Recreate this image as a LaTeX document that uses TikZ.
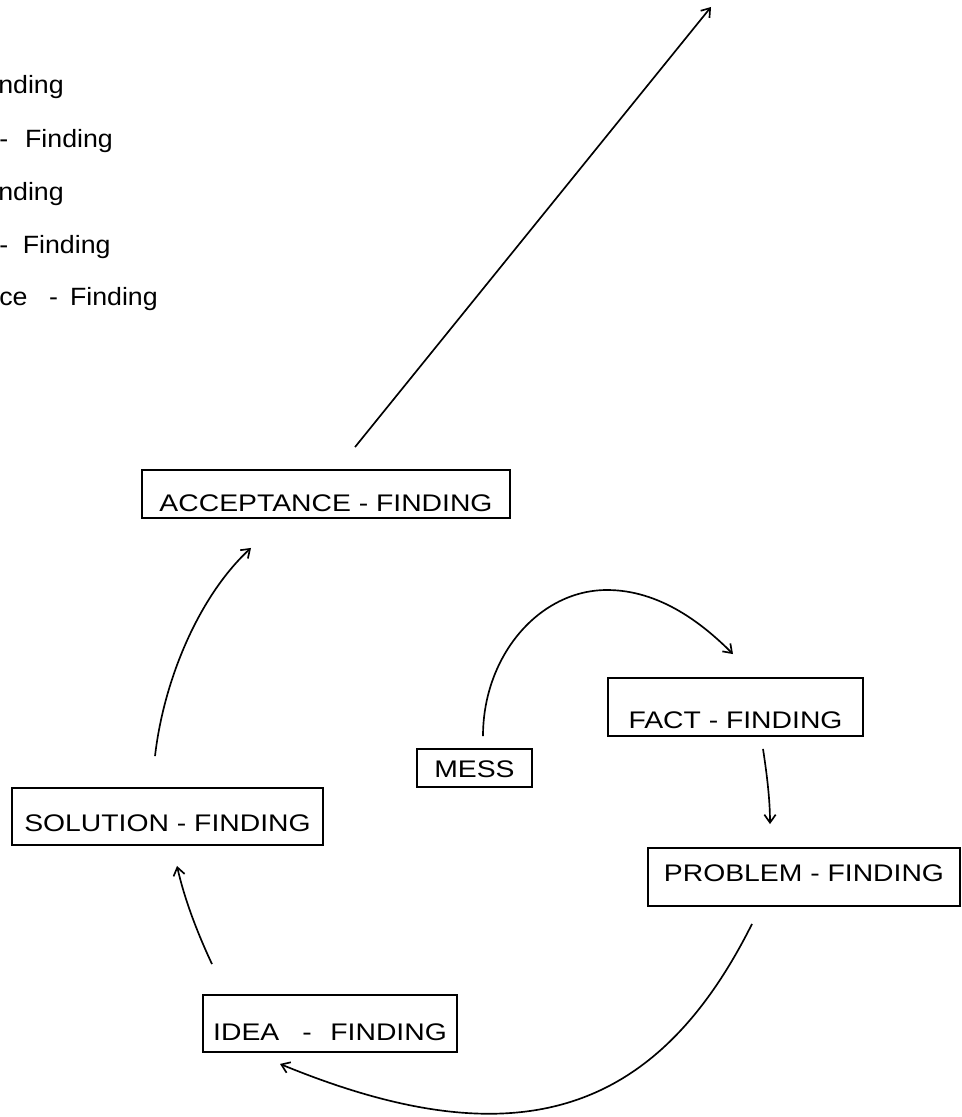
\documentclass[tikz,border=0pt]{standalone}
\usepackage{fontspec}
\setmainfont{Liberation Sans}
\newfontfamily\boxfont[FakeStretch=1.18]{Liberation Sans}
\newfontfamily\listfont[FakeStretch=1.07]{Liberation Sans}
\usetikzlibrary{arrows.meta}

\begin{document}
\begin{tikzpicture}[x=0.75pt,y=-0.75pt,
  stage/.style={draw, line width=1.4pt, inner xsep=0pt, inner ysep=0pt,
    font=\boxfont\fontsize{18}{18}\selectfont},
  listline/.style={anchor=base west, inner sep=0pt,
    font=\listfont\fontsize{18.75}{18.75}\selectfont},
  flow/.style={line width=1.25pt,
    -{Straight Barb[length=6pt,width=8.5pt]}}]

\useasboundingbox (0,0) rectangle (962,1117);

% list of the stages, cut at the left edge
\node[listline] (l1) at (-2,93)   {nding};
\node[listline] (l2) at (-1,147)  {-\hspace{12.7pt}Finding};
\node[listline] (l3) at (-2,200)  {nding};
\node[listline] (l4) at (-1,253)  {-\hspace{11pt}Finding};
\node[listline] (l5) at (-1,305)  {ce\hspace{16.2pt}-\hspace{9pt}Finding};

% stage boxes
\node[stage, minimum width=276pt, text height=30.75pt, text depth=5.25pt]
  (accept) at (326,494) {ACCEPTANCE - FINDING};
\node[stage, minimum width=191.25pt, text height=37.875pt, text depth=5.625pt]
  (fact) at (735.5,707) {FACT - FINDING};
\node[stage, minimum width=86.25pt, text height=21pt, text depth=7.5pt]
  (mess) at (474.5,768) {MESS};
\node[stage, minimum width=234pt, text height=25.125pt, text depth=18.375pt]
  (problem) at (804,877) {PROBLEM - FINDING};
\node[stage, minimum width=233.25pt, text height=32.625pt, text depth=10.125pt]
  (solution) at (167.5,816.5) {SOLUTION - FINDING};
\node[stage, minimum width=190.5pt, text height=33.75pt, text depth=9pt]
  (idea) at (330,1023.5) {IDEA\hspace{17.25pt}-\hspace{14pt}FINDING};

\coordinate (top) at (711,7);

% connectors
\draw[flow] ([shift={(8.5,-12)}]mess.north)
  .. controls (483,656) and (539,590) .. (607,590)
  .. controls (660,590) and (703,624) .. ([shift={(-2.5,-23)}]fact.north);
\draw[flow] ([shift={(27.5,12)}]fact.south)
  .. controls (767,775) and (770,800) .. ([shift={(-34,-23)}]problem.north);
\draw[flow] ([shift={(-52,17)}]problem.south)
  .. controls (654,1120) and (511,1159) .. ([shift={(-50,11)}]idea.south);
\draw[flow] ([shift={(-118,-30)}]idea.north)
  .. controls (196,930) and (184,897) .. ([shift={(9.5,20)}]solution.south);
\draw[flow] ([shift={(-12.5,-31)}]solution.north)
  .. controls (164,678) and (200,595) .. ([shift={(-75,29)}]accept.south);
\draw[flow] ([shift={(29,-22)}]accept.north) -- (top);

\end{tikzpicture}
\end{document}
